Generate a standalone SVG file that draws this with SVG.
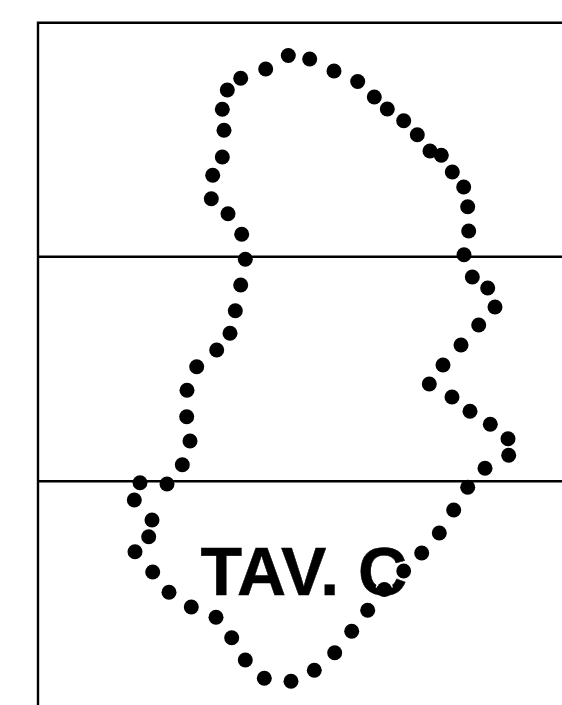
<svg xmlns="http://www.w3.org/2000/svg" width="562" height="705" viewBox="0 0 562 705">
<style>.l{stroke:#000;stroke-width:2.4;fill:none}.d circle{fill:#000;r:7.5px}.d circle.h{stroke:#fff;stroke-width:1.6;r:8.2px}.n{stroke:#fff;stroke-width:1.6;fill:none}text{font-family:"Liberation Sans",Arial,sans-serif;font-weight:700;font-size:68px;fill:#000;stroke:#000;stroke-width:.5}</style>
<rect width="562" height="705" fill="#fff"/>
<path class="l" d="M38 705V22.8H562M38 256.7H562M38 481.3H562"/>
<text x="200.500" y="595">TAV. C</text>
<g class="d" id="dots">
<circle cx="288.300" cy="55.500"/><circle cx="309.700" cy="59"/><circle cx="334" cy="71"/><circle cx="357.700" cy="81.500"/><circle cx="374.300" cy="97"/><circle cx="387.300" cy="109"/><circle cx="403.700" cy="120.700"/><circle cx="417.300" cy="134.700"/><circle cx="430" cy="151"/><circle cx="441.300" cy="155.300"/><circle cx="452.300" cy="172"/><circle cx="463.700" cy="187"/><circle cx="467.700" cy="206.700"/><circle cx="468.700" cy="231"/><circle cx="464" cy="254.700"/><circle cx="472.300" cy="277"/><circle cx="487.700" cy="288"/><circle cx="495" cy="307"/><circle cx="478.700" cy="325"/><circle cx="461" cy="345"/><circle cx="443" cy="365"/><circle cx="429.300" cy="384"/><circle cx="452" cy="397"/><circle cx="470" cy="411.300"/><circle cx="490.300" cy="424.300"/><circle cx="508" cy="438.700"/><circle cx="508.700" cy="455.300"/><circle cx="485" cy="468.300"/><circle cx="467.700" cy="487.300"/><circle cx="453.700" cy="510"/><circle cx="439.300" cy="533"/><circle cx="421.700" cy="553"/><circle class="h" cx="403.700" cy="571"/><path class="n" d="M376.300 587.500A8.300 8.300 0 0 1 392.300 587.500"/><circle cx="384.300" cy="589.500"/><circle cx="367.700" cy="610.300"/><circle cx="351.700" cy="631.300"/><circle cx="334.700" cy="652.700"/><circle cx="314.300" cy="670.300"/><circle cx="291" cy="681.300"/><circle cx="264.300" cy="678.300"/><circle cx="245.300" cy="660"/><circle cx="231.700" cy="637.700"/><circle cx="216" cy="617.300"/><circle cx="191.300" cy="607"/><circle cx="169" cy="592.300"/><circle cx="152.700" cy="572"/><circle cx="135" cy="551.700"/><circle cx="148.700" cy="536.700"/><circle cx="152" cy="520"/><circle cx="134.300" cy="500"/><circle cx="140" cy="482.700"/><circle cx="167" cy="484"/><circle cx="182.300" cy="464.700"/><circle cx="190" cy="441"/><circle cx="186.700" cy="416.700"/><circle cx="187" cy="390.300"/><circle cx="196.700" cy="366.700"/><circle cx="216.700" cy="350"/><circle cx="230" cy="333.300"/><circle cx="235.300" cy="310.700"/><circle cx="240.700" cy="285"/><circle cx="245.300" cy="259.300"/><circle cx="241.700" cy="234.300"/><circle cx="228" cy="213.700"/><circle cx="211.300" cy="198.700"/><circle cx="212.700" cy="175.300"/><circle cx="222.300" cy="157"/><circle cx="224" cy="130.300"/><circle cx="222.300" cy="109.300"/><circle cx="227.300" cy="90"/><circle cx="240.700" cy="78.300"/><circle cx="265.700" cy="69"/>
</g>
</svg>
